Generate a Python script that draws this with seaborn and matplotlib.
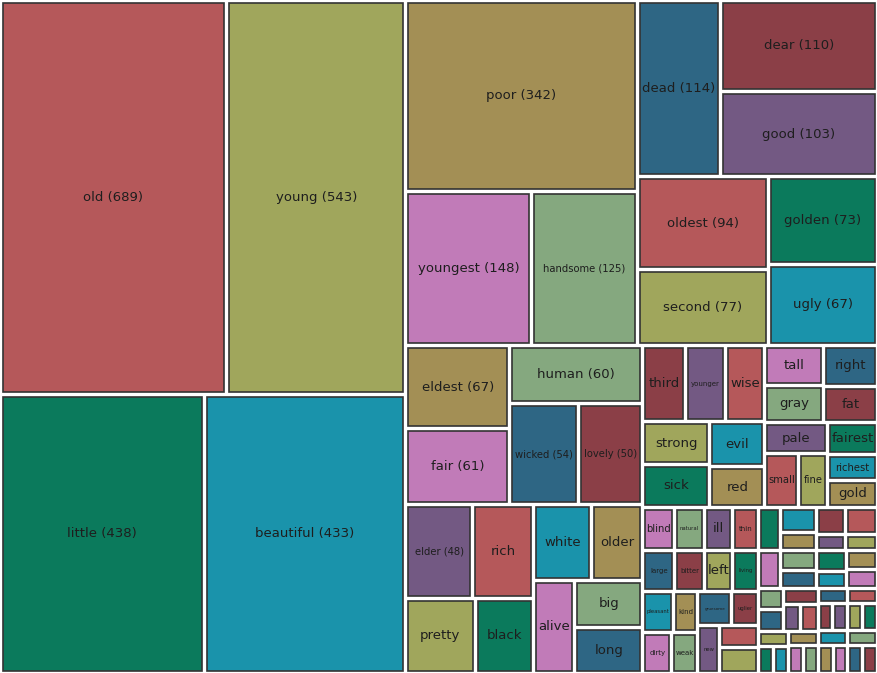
import numpy as np
import seaborn as sns
import matplotlib.pyplot as plt
from matplotlib.patches import Rectangle
from matplotlib.textpath import TextPath
from matplotlib.font_manager import FontProperties

# adjective counts, in the order the treemap lays them out
words = ['old', 'young', 'little', 'beautiful', 'poor', 'youngest', 'handsome', 'dead', 'dear', 'good',
         'oldest', 'second', 'golden', 'ugly', 'eldest', 'fair', 'human', 'wicked', 'lovely', 'elder',
         'rich', 'pretty', 'black', 'white', 'older', 'alive', 'big', 'long',
         'third', 'younger', 'wise', 'strong', 'sick', 'evil', 'red',
         'tall', 'gray', 'right', 'fat', 'pale', 'small', 'fine', 'fairest', 'richest', 'gold',
         'blind', 'natural', 'large', 'bitter', 'ill', 'thin', 'left', 'living',
         'pleasant', 'kind', 'dirty', 'weak', 'gruesome', 'uglier', 'new', 'sweet', 'strange',
         'wild', 'sad', 'happy', 'brave', 'merry', 'cruel',
         'hungry', 'tired', 'proud', 'angry', 'foolish', 'clever', 'heavy', 'quiet',
         'warm', 'cold', 'dark', 'bright', 'glad',
         'sharp', 'rough', 'empty', 'broad', 'deep', 'narrow',
         'dry', 'wet', 'free', 'silent', 'true', 'great',
         'holy', 'false', 'whole', 'sore', 'sly', 'grim']
counts = [689, 543, 438, 433, 342, 148, 125, 114, 110, 103,
          94, 77, 73, 67, 67, 61, 60, 54, 50, 48,
          44, 40, 34, 33, 30, 29, 25, 24,
          25, 24, 23, 22, 22, 19, 17,
          18, 17, 17, 15, 15, 14, 12, 12, 10, 10,
          10.5, 10, 10, 9.5, 9.3, 8.5, 9, 8,
          9.7, 7.6, 8.9, 8.3, 8.9, 6.9, 7.8, 6.6, 7.5,
          7.3, 7, 5, 6.5, 5.6, 5.1,
          6, 3.7, 6.6, 4, 4.8, 4, 4.4, 4.6,
          4.0, 4.2, 4.4, 3.5, 3.7,
          3.5, 3.1, 3.1, 3.5, 3.3, 3.1,
          3.3, 2.9, 2.9, 3.5, 3.1, 2.9,
          3.5, 3.1, 3.1, 3.5, 3.1, 3.0]
colors = ['#b5585a', '#a0a65c', '#0b7a5c', '#1a93ab', '#a38f55',
          '#c17bb8', '#85a87f', '#2e6684', '#8b3f47', '#735983']
n_with_count = 20   # first words show their count
n_labelled = 60     # smaller cells are left blank

W, H = 877, 673


def binary_treemap(values, x0, y0, x1, y1):
    # recursive halving by value, split along the longer side
    sums = np.concatenate([[0.0], np.cumsum(values)])
    rects = [None] * len(values)

    def part(i, j, value, x0, y0, x1, y1):
        if i >= j - 1:
            rects[i] = (x0, y0, x1, y1)
            return
        target = value / 2 + sums[i]
        k, hi = i + 1, j - 1
        while k < hi:
            mid = (k + hi) // 2
            if sums[mid] < target:
                k = mid + 1
            else:
                hi = mid
        if target - sums[k - 1] < sums[k] - target and i + 1 < k:
            k -= 1
        vl = sums[k] - sums[i]
        vr = value - vl
        if x1 - x0 > y1 - y0:
            xk = (x0 * vr + x1 * vl) / value
            part(i, k, vl, x0, y0, xk, y1)
            part(k, j, vr, xk, y0, x1, y1)
        else:
            yk = (y0 * vr + y1 * vl) / value
            part(i, k, vl, x0, y0, x1, yk)
            part(k, j, vr, x0, yk, x1, y1)

    part(0, len(values), sums[-1], x0, y0, x1, y1)
    return rects


sns.set_style('white')
pal = sns.color_palette(colors)
font = FontProperties(family='DejaVu Sans')

fig = plt.figure(figsize=(W / 100, H / 100), dpi=100)
ax = fig.add_axes([0, 0, 1, 1])
ax.set_xlim(0, W)
ax.set_ylim(H, 0)
ax.axis('off')

rects = binary_treemap(counts, 0, 0, W, H)
pad = 2.5
sizes = [9.5, 7.2, 5.0, 3.8, 3.0]   # font steps tried until the label fits
for i, (x0, y0, x1, y1) in enumerate(rects):
    ax.add_patch(Rectangle((x0 + pad, y0 + pad), x1 - x0 - 2 * pad, y1 - y0 - 2 * pad,
                           facecolor=pal[i % len(pal)], edgecolor='#333333', linewidth=1.2))
    if i >= n_labelled:
        continue
    label = f'{words[i]} ({int(counts[i])})' if i < n_with_count else words[i]
    avail = x1 - x0 - 2 * pad - 3
    for fs in sizes:
        tw = TextPath((0, 0), label, size=fs, prop=font).get_extents().width * 100 / 72
        if tw <= avail:
            ax.text((x0 + x1) / 2, (y0 + y1) / 2, label, ha='center', va='center',
                    fontsize=fs, color='#1e1e1e', family='DejaVu Sans')
            break

fig.savefig('out.png', dpi=100)
